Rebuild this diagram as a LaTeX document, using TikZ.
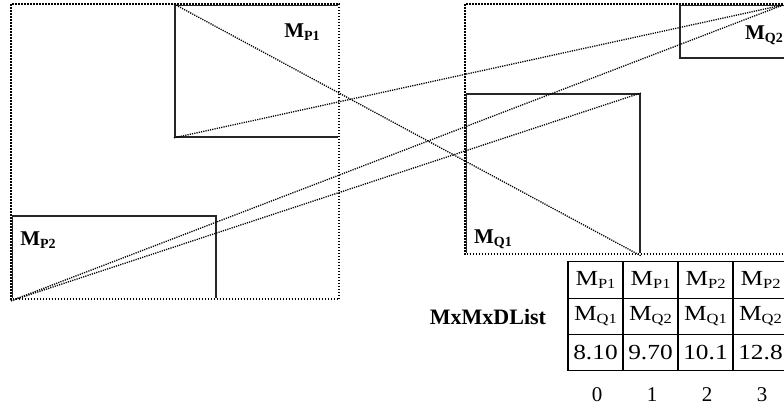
\documentclass[tikz,border=0pt]{standalone}
\usepackage{fontspec}
\setmainfont{Liberation Serif}
% M with a lowered, smaller subscript
\newcommand{\Msb}[1]{M\raisebox{-3pt}{\fontsize{14}{14}\selectfont #1}}
% widened table entry
\newcommand{\wide}[1]{\scalebox{1.18}[1]{#1}}
\begin{document}
\begin{tikzpicture}[x=1pt,y=-1pt,
  solidbox/.style={draw=black!85, line width=1.8pt, inner sep=0pt, anchor=north west},
  outerwhite/.style={draw=white, line width=2.4pt},
  outerdots/.style={draw=black, line width=2pt, dash pattern=on 1.6pt off 1.4pt},
  diag/.style={draw=black, line width=1.3pt, dash pattern=on 1.2pt off 1.1pt},
  boxlab/.style={font=\fontsize{21}{24}\selectfont\bfseries, inner sep=0pt},
  cell/.style={draw=black, line width=1.2pt, minimum width=55pt, minimum height=36.3pt,
               inner sep=0pt, font=\fontsize{21.5}{24}\selectfont},
  idx/.style={font=\fontsize{21}{24}\selectfont, inner sep=0pt}]
\useasboundingbox (0,0) rectangle (784,407);
\clip (0,0) rectangle (784,407);

% solid rectangles
\node[solidbox, minimum width=165pt, minimum height=132pt] (P1) at (174,4) {};
\node[solidbox, minimum width=204pt, minimum height=84pt] (P2) at (11,215) {};
\node[solidbox, minimum width=174pt, minimum height=161pt] (Q1) at (465,93) {};
\node[solidbox, minimum width=130pt, minimum height=53pt] (Q2) at (679,4) {};
\coordinate (q2c) at (783,5);

% dotted outer frames
\node[inner sep=0pt, minimum width=328pt, minimum height=295pt, anchor=north west] (L) at (11,4) {};
\node[inner sep=0pt, minimum width=340pt, minimum height=250pt, anchor=north west] (R) at (465,4) {};
\foreach \f in {L,R} {
  \draw[outerwhite] (\f.north west) rectangle (\f.south east);
  \draw[outerdots] (\f.north west) rectangle (\f.south east);
}

% labels inside rectangles
\node[boxlab] (P1l) at (302,32) {\Msb{P1}};
\node[boxlab] (P2l) at (38,240) {\Msb{P2}};
\node[boxlab] (Q1l) at (493,239) {\Msb{Q1}};
\node[boxlab] (Q2l) at (764,35) {\Msb{Q2}};

% dotted diagonals
\draw[diag] (P1.north west) -- (Q1.south east);
\draw[diag] (P1.south west) -- (q2c);
\draw[diag] (P2.south west) -- (q2c);
\draw[diag] (P2.south west) -- (Q1.north east);

% MxMxDList table
\node[font=\fontsize{22}{24}\selectfont\bfseries, inner sep=0pt] (title) at (488,317) {MxMxDList};
\node[cell] (a0) at (595.5,280) {\wide{\Msb{P1}}};
\node[cell] (a1) at (650.5,280) {\wide{\Msb{P1}}};
\node[cell] (a2) at (705.5,280) {\wide{\Msb{P2}}};
\node[cell] (a3) at (760.5,280) {\wide{\Msb{P2}}};
\node[cell] (b0) at (595.5,316.3) {\wide{\Msb{Q1}}};
\node[cell] (b1) at (650.5,316.3) {\wide{\Msb{Q2}}};
\node[cell] (b2) at (705.5,316.3) {\wide{\Msb{Q1}}};
\node[cell] (b3) at (760.5,316.3) {\wide{\Msb{Q2}}};
\node[cell] (c0) at (595.5,352.6) {\wide{8.10}};
\node[cell] (c1) at (650.5,352.6) {\wide{9.70}};
\node[cell] (c2) at (705.5,352.6) {\wide{10.1}};
\node[cell] (c3) at (760.5,352.6) {\wide{12.8}};
\node[idx] (i0) at (597,395) {0};
\node[idx] (i1) at (652,395) {1};
\node[idx] (i2) at (707,395) {2};
\node[idx] (i3) at (762,395) {3};
\end{tikzpicture}
\end{document}
